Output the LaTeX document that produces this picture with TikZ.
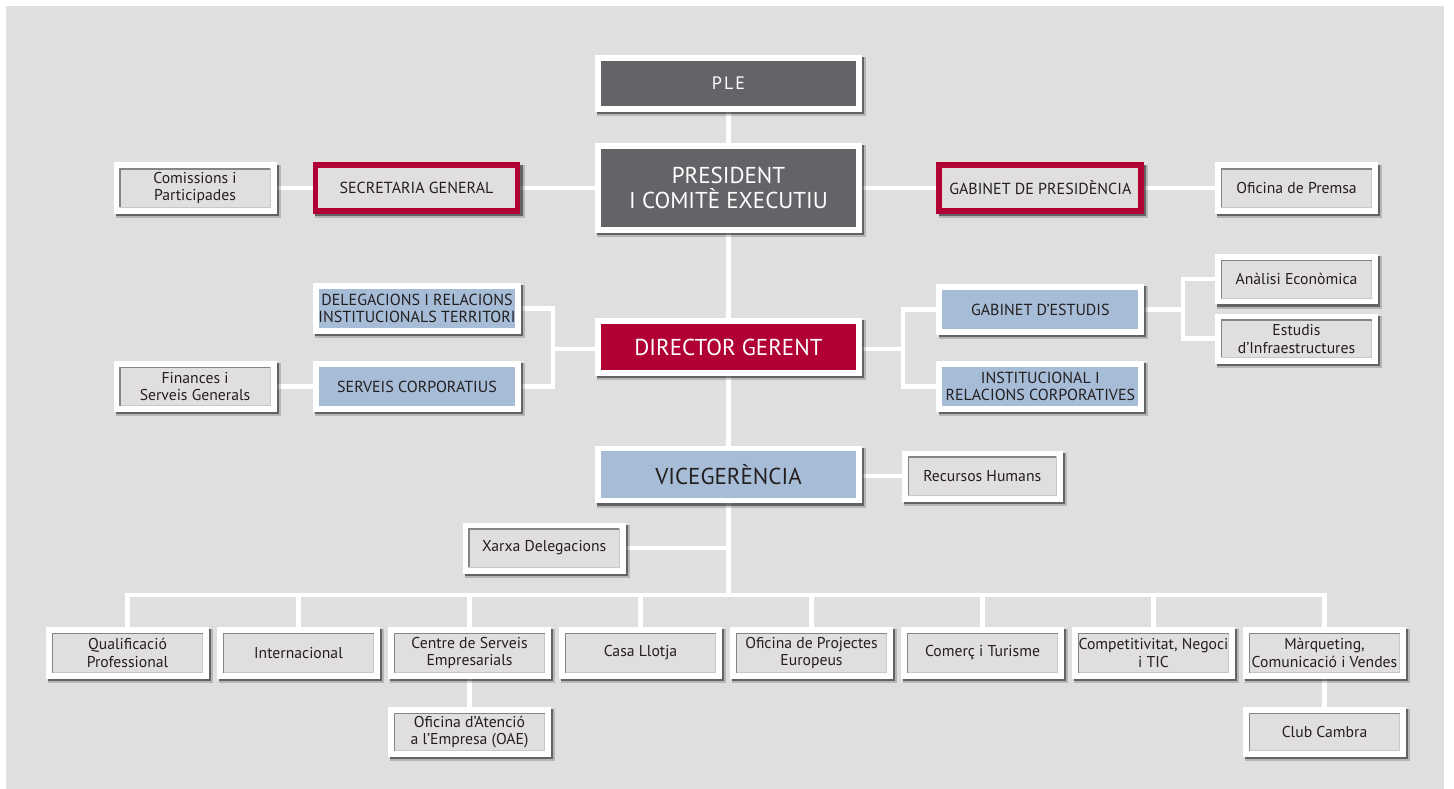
\documentclass[tikz,border=0pt]{standalone}
\usepackage{fontspec}
\setmainfont{PT Sans}
\usetikzlibrary{calc}
\definecolor{bgc}{HTML}{E0DFDD}
\definecolor{darkc}{HTML}{636467}
\definecolor{redc}{HTML}{B10034}
\definecolor{bluec}{HTML}{A7BDD7}
\definecolor{txtc}{HTML}{231F20}
\definecolor{insetc}{HTML}{858585}
\definecolor{insetl}{HTML}{C8C8C8}
\pgfdeclarelayer{bglayer}
\pgfdeclarelayer{edges}
\pgfsetlayers{bglayer,edges,main}
\tikzset{
  box/.style={rectangle, inner sep=0pt, align=center, line width=5.7pt, text=txtc,
    preaction={draw=black, draw opacity=0.18, line width=7.7pt, transform canvas={shift={(3.2pt,-3.2pt)}}},
    preaction={draw=black, draw opacity=0.45, line width=5.7pt, transform canvas={shift={(2.2pt,-2.2pt)}}}},
  whitebox/.style={box, draw=white, fill=bgc,
    path picture={
      \draw[insetl, line width=1pt] ([shift={(3.35pt,3.35pt)}]path picture bounding box.south west) -| ([shift={(-3.35pt,-3.35pt)}]path picture bounding box.north east);
      \draw[insetc, line width=1.6pt] ([shift={(3.65pt,3.65pt)}]path picture bounding box.south west) |- ([shift={(-3.65pt,-3.65pt)}]path picture bounding box.north east);
    }},
  bluebox/.style={box, draw=white, fill=bluec},
  redframe/.style={box, draw=redc, fill=bgc},
  darkbox/.style={box, draw=white, fill=darkc, text=white},
  redbox/.style={box, draw=white, fill=redc, text=white},
  smallbox/.style={minimum width=157.3pt, minimum height=45.3pt},
  widebox/.style={minimum width=202pt, minimum height=45.3pt},
  bigbox/.style={minimum width=261.3pt, minimum height=#1},
  smalltxt/.style={font=\fontsize{15.7}{17.7}\selectfont},
  capstxt/.style={font=\fontsize{16}{17.3}\selectfont},
  bigtxt/.style={font=\fontsize{23}{25.7}\selectfont},
  conn/.style={draw=white, line width=4.5pt}
}
\begin{document}
\begin{tikzpicture}[x=1pt,y=1pt]
\useasboundingbox (0,0) rectangle (1454,-789);
\begin{pgfonlayer}{bglayer}
\fill[white] (0,0) rectangle (1454,-789);
\fill[bgc] (6,-6) rectangle (1444,-789);
\end{pgfonlayer}

% top
\node[darkbox, bigbox=51.3pt, font=\fontsize{18}{20}\selectfont] (ple) at (728.5,-83.5) {P\kern2pt L\kern2pt E};
\node[darkbox, bigbox=84.3pt, bigtxt] (pres) at (728.5,-188) {PRESIDENT\\I COMITÈ EXECUTIU};
\node[redframe, widebox, capstxt] (sec) at (416.5,-188) {SECRETARIA GENERAL};
\node[whitebox, smallbox, smalltxt] (com) at (195,-188) {Comissions i\\Participades};
\node[redframe, widebox, capstxt] (gpres) at (1040.3,-188) {GABINET DE PRESIDÈNCIA};
\node[whitebox, smallbox, smalltxt] (prem) at (1296.5,-188) {Oficina de Premsa};

% director level
\node[redbox, bigbox=52.3pt, bigtxt] (dir) at (728.5,-347) {DIRECTOR GERENT};
\node[bluebox, widebox, capstxt] (deleg) at (417,-308.5) {DELEGACIONS I RELACIONS\\INSTITUCIONALS TERRITORI};
\node[bluebox, widebox, capstxt] (servc) at (417,-386.5) {SERVEIS CORPORATIUS};
\node[whitebox, smallbox, smalltxt] (fin) at (195,-386.5) {Finances i\\Serveis Generals};
\node[bluebox, widebox, capstxt] (gest) at (1040.3,-309.5) {GABINET D’ESTUDIS};
\node[bluebox, widebox, capstxt] (inst) at (1040.3,-386.5) {INSTITUCIONAL I\\RELACIONS CORPORATIVES};
\node[whitebox, smallbox, minimum height=44.6pt, smalltxt] (anal) at (1296.5,-279.2) {Anàlisi Econòmica};
\node[whitebox, smallbox, minimum height=44.6pt, smalltxt] (estu) at (1296.5,-338.7) {Estudis\\d’Infraestructures};

% vicegerencia
\node[bluebox, bigbox=51.9pt, bigtxt] (vice) at (728.5,-474.5) {VICEGERÈNCIA};
\node[whitebox, smallbox, minimum width=155.3pt, smalltxt] (rrhh) at (982.3,-476.2) {Recursos Humans};
\node[whitebox, smallbox, smalltxt] (xarxa) at (544.2,-548) {Xarxa Delegacions};

% bottom row
\node[whitebox, smallbox, minimum height=46.3pt, smalltxt] (q1) at (127.5,-653) {Qualificació\\Professional};
\node[whitebox, smallbox, minimum height=46.3pt, smalltxt] (q2) at (298.5,-653) {Internacional};
\node[whitebox, smallbox, minimum height=46.3pt, smalltxt] (q3) at (469.5,-653) {Centre de Serveis\\Empresarials};
\node[whitebox, smallbox, minimum height=46.3pt, smalltxt] (q4) at (640.5,-653) {Casa Llotja};
\node[whitebox, smallbox, minimum height=46.3pt, smalltxt] (q5) at (811.5,-653) {Oficina de Projectes\\Europeus};
\node[whitebox, smallbox, minimum height=46.3pt, smalltxt] (q6) at (982.5,-653) {Comerç i Turisme};
\node[whitebox, smallbox, minimum height=46.3pt, smalltxt] (q7) at (1153.5,-653) {Competitivitat, Negoci\\i TIC};
\node[whitebox, smallbox, minimum height=46.3pt, smalltxt] (q8) at (1324.5,-653) {Màrqueting,\\Comunicació i Vendes};
\node[whitebox, smallbox, minimum height=44.3pt, smalltxt] (oae) at (469.5,-732) {Oficina d’Atenció\\a l’Empresa (OAE)};
\node[whitebox, smallbox, minimum height=44.3pt, smalltxt] (club) at (1324.5,-732) {Club Cambra};

\coordinate (lb) at (553,-349);
\coordinate (rb) at (903,-349);
\coordinate (eb) at (1183,-309.5);
\coordinate (bus) at (728.5,-595);

\begin{pgfonlayer}{edges}
\draw[conn] (ple.south) -- (pres.north);
\draw[conn] (pres.south) -- (dir.north);
\draw[conn] (dir.south) -- (vice.north);
\draw[conn] (vice.south) -- (bus);
\draw[conn] (com.east) -- (sec.west);
\draw[conn] (sec.east) -- (pres.west);
\draw[conn] (pres.east) -- (gpres.west);
\draw[conn] (gpres.east) -- (prem.west);
\draw[conn] (deleg.east) -| (lb) |- (servc.east);
\draw[conn] (dir.west |- lb) -- (lb);
\draw[conn] (fin.east) -- (servc.west);
\draw[conn] (gest.west) -| (rb) |- (inst.west);
\draw[conn] (dir.east |- rb) -- (rb);
\draw[conn] (anal.west) -| (eb) |- (estu.west);
\draw[conn] (gest.east) -- (eb);
\draw[conn] (vice.east |- rrhh.west) -- (rrhh.west);
\draw[conn] (xarxa.east) -- (xarxa.east -| bus);
\draw[conn] (q1.north) -- (q1.north |- bus) -- (q8.north |- bus) -- (q8.north);
\foreach \k in {2,...,7} { \draw[conn] (q\k.north) -- (q\k.north |- bus); }
\draw[conn] (q3.south) -- (oae.north);
\draw[conn] (q8.south) -- (club.north);
\end{pgfonlayer}
\end{tikzpicture}
\end{document}
